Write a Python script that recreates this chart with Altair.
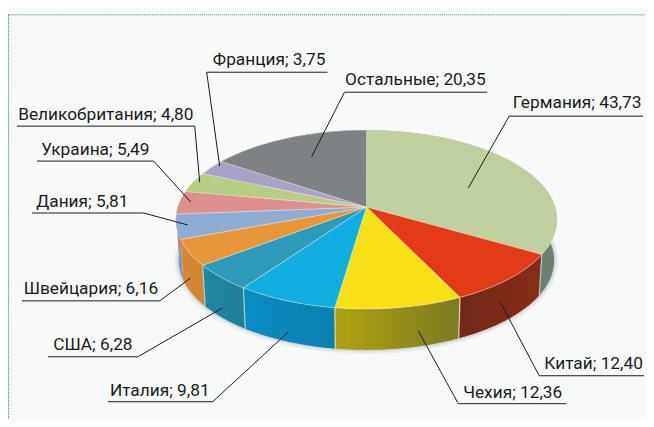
import math
import altair as alt
import pandas as pd

names = ["Германия", "Китай", "Чехия", "Италия", "США", "Швейцария", "Дания",
         "Украина", "Великобритания", "Франция", "Остальные"]
values = [43.73, 12.40, 12.36, 9.81, 6.28, 6.16, 5.81, 5.49, 4.80, 3.75, 20.35]
value_text = ["43,73", "12,40", "12,36", "9,81", "6,28", "6,16", "5,81", "5,49", "4,80", "3,75", "20,35"]
top_colors = ["#BFD09E", "#E33B17", "#F7E017", "#10ADE0", "#2E9ABB", "#E8963A", "#8EADD5",
              "#DE9090", "#B5CC85", "#A8A2C8", "#7E8284"]
wall_a = ["#6E8270", "#8A2C18", "#ADA30F", "#0A8CC4", "#1E86A6", "#D98A30", "#7F99BC",
          "#C08080", "#A0B47A", "#9590B0", "#6E7274"]
wall_b = ["#4E5F55", "#702818", "#7C7A24", "#0A80AE", "#238095", "#CF8430", "#7F99BC",
          "#C08080", "#A0B47A", "#9590B0", "#6E7274"]

label_x = [578, 594.5, 513.5, 160, 93, 91, 82.5, 95.5, 106, 269.5, 416]
label_y = [108, 369, 398, 396, 350, 294, 207, 155, 120, 65, 85]
leader_x = [[644, 510, 469], [645, 540, 501], [567, 459, 419], [108, 213, 289], [48, 138, 223],
            [22, 160, 191], [32, 144, 188], [37, 154, 191], [17, 195, 200], [328, 207, 220], [488, 345, 312]]
leader_y = [[116, 116, 188], [376, 376, 302], [404, 404, 331], [402, 402, 332], [357, 357, 308],
            [301, 301, 278], [213, 213, 225], [161, 161, 202], [126, 126, 182], [72, 72, 166], [92, 92, 157]]

BG = "#F8FAF9"
FONT = "Roboto"
CX, CY, RX, RY, K, DEPTH, NARROW = 367, 207, 189, 87.8, 0.14, 41, 0.985

xs = alt.Scale(domain=[8, 646], range=[0, 638], nice=False, zero=False)
ys = alt.Scale(domain=[8, 419], range=[0, 411], nice=False, zero=False)


def rim(theta, low=False):
    d = 1 + K * math.cos(theta)
    x, y = math.sin(theta) / d, math.cos(theta) / d
    px, py = CX + RX * x, CY - RY * y
    if low:
        px, py = CX + (px - CX) * NARROW, py + DEPTH
    return px, py


def arc_pts(a, b, low=False, n=48):
    return [rim(a + (b - a) * i / n, low) for i in range(n + 1)]


def frame(pts):
    return pd.DataFrame({"x": [p[0] for p in pts], "y": [p[1] for p in pts], "i": range(len(pts))})


def line_layer(pts, **mark):
    return alt.Chart(frame(pts)).mark_line(**mark).encode(
        x=alt.X("x:Q", scale=xs, axis=None),
        y=alt.Y("y:Q", scale=ys, axis=None),
        order="i:Q",
    )


total = sum(values)
edges = [0.0]
for v in values:
    edges.append(edges[-1] + 2 * math.pi * v / total)

layers = []

# soft shadow below the wall
whole_low = arc_pts(0, 2 * math.pi, low=True, n=180)
for w, op in [(9, 0.05), (6, 0.07), (3, 0.12)]:
    layers.append(line_layer(whole_low, stroke="#5A6670", strokeWidth=w, opacity=op))

# walls
for j in range(len(values)):
    a, b = edges[j], edges[j + 1]
    pts = arc_pts(a, b) + arc_pts(a, b, low=True)[::-1]
    right = rim((a + b) / 2)[0] > CX
    c0, c1 = (wall_b[j], wall_a[j]) if right else (wall_a[j], wall_b[j])
    if j == 2:
        c0, c1 = wall_a[j], wall_b[j]
    grad = alt.Gradient(gradient="linear", x1=0, x2=1, y1=0, y2=0,
                        stops=[alt.GradientStop(offset=0, color=c0),
                               alt.GradientStop(offset=1, color=c1)])
    layers.append(line_layer(pts, fill=grad, strokeWidth=0, stroke=None))

# wall dividers
for j in [0, 1, 2, 3, 4]:
    t = edges[j + 1]
    layers.append(line_layer([rim(t), rim(t, True)], stroke="#E8E4B8" if j in (1, 2) else "#A8D8E4",
                             strokeWidth=1.4, opacity=0.75))

# top face
for j in range(len(values)):
    pts = [(CX, CY)] + arc_pts(edges[j], edges[j + 1]) + [(CX, CY)]
    layers.append(line_layer(pts, fill=top_colors[j], stroke="#F2EBD0", strokeWidth=0.8, strokeOpacity=0.55))

# leaders
for lx, ly in zip(leader_x, leader_y):
    layers.append(line_layer(list(zip(lx, ly)), stroke="#1A1A1A", strokeWidth=1))

# labels
labels = pd.DataFrame({"x": label_x, "y": label_y,
                       "t": [f"{n}; {v}" for n, v in zip(names, value_text)]})
layers.append(alt.Chart(labels).mark_text(align="center", baseline="alphabetic", font=FONT,
                                          fontSize=17.3, color="#1A1A1A").encode(
    x=alt.X("x:Q", scale=xs, axis=None), y=alt.Y("y:Q", scale=ys, axis=None), text="t:N"))

# dotted frame
frame_color = "#1F9045"
layers.append(alt.Chart(pd.DataFrame({"a": [0]})).mark_rule(color=frame_color, strokeWidth=1, strokeDash=[1, 1]).encode(
    x=alt.value(0.5), y=alt.value(6.5), y2=alt.value(411)))
layers.append(alt.Chart(pd.DataFrame({"a": [0]})).mark_rule(color=frame_color, strokeWidth=1, strokeDash=[1, 1]).encode(
    y=alt.value(6.5), x=alt.value(0.5), x2=alt.value(638)))

chart = alt.layer(*layers).properties(width=638, height=411, padding=0, background=BG).configure_view(stroke=None)
chart.save("out.html", embed_options={"renderer": "svg", "actions": False})
